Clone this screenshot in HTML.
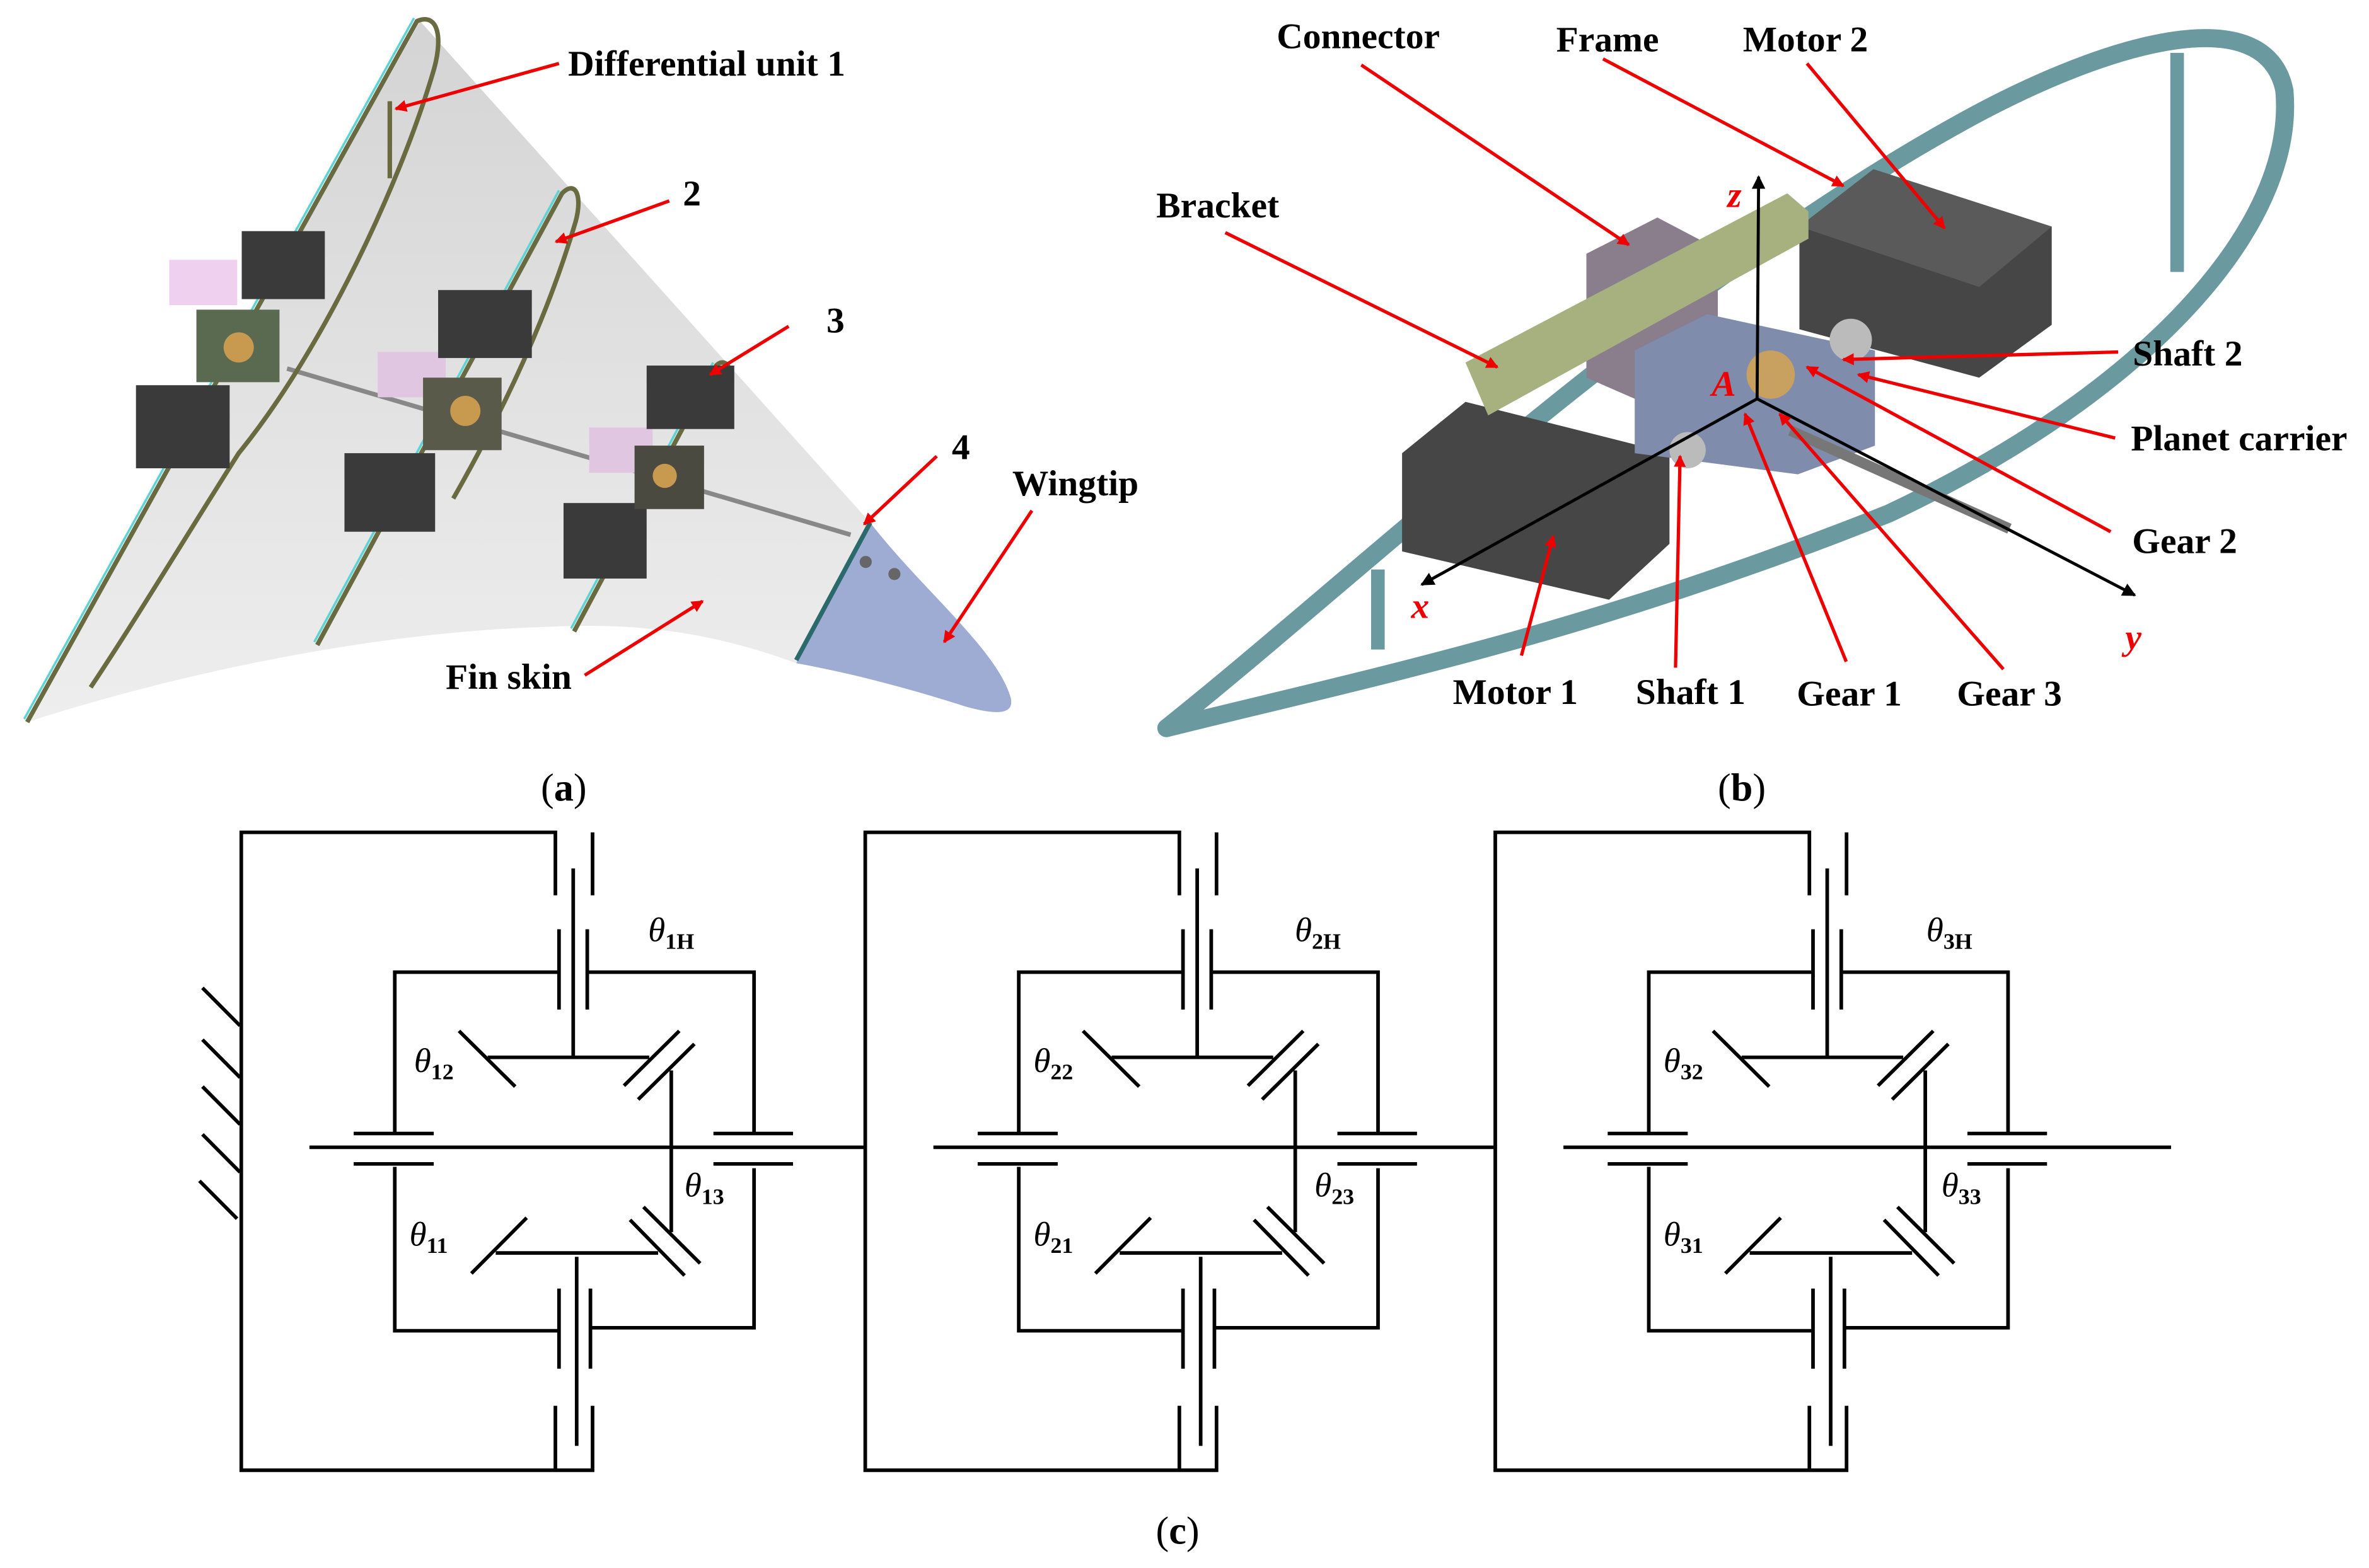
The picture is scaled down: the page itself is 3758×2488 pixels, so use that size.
<!DOCTYPE html>
<html><head><meta charset="utf-8"><style>
html,body{margin:0;padding:0;background:#fff}
svg{display:block}
.lb{font-family:"Liberation Serif",serif;font-weight:bold;font-size:24px;fill:#000}
.th{font-family:"Liberation Serif",serif;font-style:italic;font-size:23px;fill:#000}
.sb{font-family:"Liberation Serif",serif;font-style:normal;font-weight:bold;font-size:15px}
.cap{font-family:"Liberation Serif",serif;font-size:26px;fill:#000}
.ax{font-family:"Liberation Serif",serif;font-style:italic;font-weight:bold;font-size:24px;fill:#e00}
</style></head><body>
<svg width="3758" height="2488" viewBox="0 0 1568 1038" preserveAspectRatio="none" xmlns="http://www.w3.org/2000/svg">
<defs>
<marker id="ar" markerWidth="8" markerHeight="8" refX="7" refY="4" orient="auto" markerUnits="userSpaceOnUse"><path d="M0,0 L8,4 L0,8 z" fill="#e00"/></marker>
<marker id="ak" markerWidth="9" markerHeight="9" refX="8" refY="4.5" orient="auto" markerUnits="userSpaceOnUse"><path d="M0,0 L9,4.5 L0,9 z" fill="#000"/></marker>
<linearGradient id="sk" x1="0" y1="0" x2="0" y2="1"><stop offset="0" stop-color="#d4d4d4"/><stop offset="1" stop-color="#eeeeee"/></linearGradient>
<g id="unit" fill="none" stroke="#000" stroke-width="2.4">
<path d="M367.6,594 V551.6 H159.7 V981.4 H392.2 V938 M392.2,594 V551.6 M367.6,938 V981.4"/>
<path d="M379.4,575.9 V703.2 M370,616.9 V671 M388.7,616.9 V671"/>
<path d="M370,645.8 H261.3 V753.6 M388.7,645.8 H499.1 V753.6"/>
<path d="M234.1,754.5 H287.1 M234.1,775 H287.1 M472.2,754.5 H524.9 M472.2,775 H524.9"/>
<path d="M261.3,777 V887.4 H370 M390.8,885.4 H499.1 V777.9"/>
<path d="M370,859 V913 M390.8,859 V913 M381.7,837.6 V965"/>
<path d="M303.8,685.4 L341,722.9 M322.8,703.2 H429.7 M413,722.3 L449.6,685.4 M422.4,731.6 L459.6,694.2 M444.3,712 V821"/>
<path d="M312,848.8 L348.6,811.3 M328.1,835 H435.6 M417,812.7 L453.1,850.2 M425.9,804 L463.4,842"/>
</g>
</defs>

<!-- (a) -->
<path d="M278,14 L576,346 L527,439 C470,418 420,412 362,415 C250,418 120,445 18,478 Z" fill="url(#sk)"/>
<path d="M576,346 C610,390 660,430 669,462 C672,475 655,472 640,468 C600,455 560,445 527,439 Z" fill="#9eabd2"/>
<circle cx="573" cy="372" r="4" fill="#666"/><circle cx="592" cy="380" r="4" fill="#666"/>
<line x1="190" y1="244" x2="563" y2="354" stroke="#888" stroke-width="3"/>
<g fill="none" stroke-width="3" stroke="#6a6a40">
<path d="M18,478 L276,14 C290,8 294,25 286,50 C265,120 215,230 158,300 C120,360 90,410 60,455"/>
<path d="M258,67 V118" />
<path d="M210,427 L372,128 C382,118 386,132 380,150 C365,200 340,260 300,330"/>
<path d="M380,418 L474,242 C480,236 486,244 482,255"/>
<path d="M527,437 L576,346" stroke="#2a6a6a"/>
</g>
<g fill="none" stroke="#5cd4d4" stroke-width="1.5">
<path d="M16,476 L274,12"/><path d="M208,425 L370,126"/><path d="M378,416 L472,240"/>
</g>
<g>
<rect x="112" y="172" width="45" height="30" fill="#efd0ef"/>
<rect x="160" y="153" width="55" height="45" fill="#3a3a3a"/>
<rect x="90" y="255" width="62" height="55" fill="#3a3a3a"/>
<rect x="130" y="205" width="55" height="48" fill="#5a6a50"/>
<circle cx="158" cy="230" r="10" fill="#c89a50"/>
<rect x="250" y="233" width="45" height="30" fill="#e0c6e0"/>
<rect x="290" y="192" width="62" height="45" fill="#3a3a3a"/>
<rect x="228" y="300" width="60" height="52" fill="#3a3a3a"/>
<rect x="280" y="250" width="52" height="48" fill="#5a5a4a"/>
<circle cx="308" cy="272" r="10" fill="#c89a50"/>
<rect x="390" y="283" width="42" height="30" fill="#e0c6e0"/>
<rect x="428" y="242" width="58" height="42" fill="#3a3a3a"/>
<rect x="373" y="333" width="55" height="50" fill="#3a3a3a"/>
<rect x="420" y="295" width="46" height="42" fill="#4a4a40"/>
<circle cx="440" cy="315" r="8" fill="#c89a50"/>
</g>
<g stroke="#e00" stroke-width="2.2" marker-end="url(#ar)">
<line x1="370" y1="42" x2="262" y2="72"/>
<line x1="443" y1="133" x2="368" y2="160"/>
<line x1="522" y1="216" x2="470" y2="248"/>
<line x1="620" y1="302" x2="572" y2="347"/>
<line x1="683" y1="338" x2="625" y2="425"/>
<line x1="387" y1="447" x2="465" y2="398"/>
</g>
<text class="lb" x="376" y="50">Differential unit 1</text>
<text class="lb" x="452" y="136">2</text>
<text class="lb" x="547" y="220">3</text>
<text class="lb" x="630" y="304">4</text>
<text class="lb" x="670" y="328">Wingtip</text>
<text class="lb" x="295" y="456">Fin skin</text>
<text class="cap" x="358" y="530">(<tspan font-weight="bold">a</tspan>)</text>

<!-- (b) -->
<path d="M772,482 C900,380 1100,190 1300,80 C1400,25 1500,0 1512,60 C1520,150 1420,260 1250,340 C1050,420 900,450 772,482 Z" fill="none" stroke="#6a9aa0" stroke-width="12" stroke-linejoin="round"/>
<path d="M1441,35 V180 M912,377 V430" stroke="#6a9aa0" stroke-width="9"/>
<polygon points="1191,150 1240,112 1358,150 1358,215 1310,250 1191,218" fill="#464646"/>
<polygon points="1191,150 1240,112 1358,150 1310,190" fill="#5a5a5a"/>
<polygon points="928,300 970,266 1105,300 1105,360 1065,397 928,365" fill="#464646"/>
<polygon points="1050,168 1097,144 1137,165 1137,288 1050,250" fill="#8a7d8c"/>
<polygon points="970,240 1183,128 1197,140 1197,158 985,275" fill="#a7b07f"/>
<polygon points="1082,232 1130,208 1241,232 1241,295 1190,314 1082,300" fill="#7f8cab"/>
<circle cx="1172" cy="248" r="16" fill="#c8a060"/>
<circle cx="1225" cy="225" r="14" fill="#bbb"/>
<circle cx="1117" cy="298" r="12" fill="#bbb"/>
<line x1="1185" y1="285" x2="1330" y2="350" stroke="#777" stroke-width="7"/>
<g stroke="#000" stroke-width="2" marker-end="url(#ak)">
<line x1="1163" y1="264" x2="1164" y2="117"/>
<line x1="1163" y1="264" x2="941" y2="387"/>
<line x1="1163" y1="264" x2="1413" y2="394"/>
</g>
<g stroke="#e00" stroke-width="2.2" marker-end="url(#ar)">
<line x1="901" y1="43" x2="1078" y2="162"/>
<line x1="1061" y1="39" x2="1220" y2="123"/>
<line x1="1196" y1="42" x2="1287" y2="151"/>
<line x1="811" y1="154" x2="991" y2="243"/>
<line x1="1402" y1="233" x2="1220" y2="238"/>
<line x1="1400" y1="290" x2="1230" y2="248"/>
<line x1="1397" y1="352" x2="1196" y2="243"/>
<line x1="1007" y1="434" x2="1028" y2="355"/>
<line x1="1109" y1="442" x2="1112" y2="302"/>
<line x1="1222" y1="438" x2="1155" y2="274"/>
<line x1="1326" y1="443" x2="1178" y2="274"/>
</g>
<text class="lb" x="899" y="32" text-anchor="middle">Connector</text>
<text class="lb" x="1064" y="34" text-anchor="middle">Frame</text>
<text class="lb" x="1195" y="34" text-anchor="middle">Motor 2</text>
<text class="lb" x="806" y="144" text-anchor="middle">Bracket</text>
<text class="lb" x="1448" y="242" text-anchor="middle">Shaft 2</text>
<text class="lb" x="1482" y="298" text-anchor="middle">Planet carrier</text>
<text class="lb" x="1446" y="366" text-anchor="middle">Gear 2</text>
<text class="lb" x="1003" y="466" text-anchor="middle">Motor 1</text>
<text class="lb" x="1119" y="466" text-anchor="middle">Shaft 1</text>
<text class="lb" x="1224" y="467" text-anchor="middle">Gear 1</text>
<text class="lb" x="1330" y="467" text-anchor="middle">Gear 3</text>
<text class="ax" x="1148" y="137" text-anchor="middle">z</text>
<text class="ax" x="940" y="409" text-anchor="middle">x</text>
<text class="ax" x="1412" y="430" text-anchor="middle">y</text>
<text class="ax" x="1141" y="262" text-anchor="middle" font-size="20">A</text>
<text class="cap" x="1137" y="530">(<tspan font-weight="bold">b</tspan>)</text>

<!-- (c) -->
<g transform="matrix(1,0,0,0.9825,0,9.06)">
<use href="#unit"/>
<use href="#unit" transform="translate(413,0)"/>
<use href="#unit" transform="translate(830,0)"/>
<g stroke="#000" stroke-width="2.4" fill="none">
<path d="M204.8,763.8 H572.6 M617.8,763.8 H989 M1034.8,763.8 H1437"/>
<path d="M134,656.4 L158.9,681.9 M134,691.3 L158.9,716.8 M134,722.9 L158.9,748.4 M134,755.1 L158.9,780.6 M132,786.4 L156.9,811.9"/>
</g>
<g class="th">
<text x="429" y="625">θ<tspan class="sb" dy="5">1H</tspan></text>
<text x="274" y="713">θ<tspan class="sb" dy="5">12</tspan></text>
<text x="453" y="797">θ<tspan class="sb" dy="5">13</tspan></text>
<text x="271" y="830">θ<tspan class="sb" dy="5">11</tspan></text>
<text x="857" y="625">θ<tspan class="sb" dy="5">2H</tspan></text>
<text x="684" y="713">θ<tspan class="sb" dy="5">22</tspan></text>
<text x="870" y="797">θ<tspan class="sb" dy="5">23</tspan></text>
<text x="684" y="830">θ<tspan class="sb" dy="5">21</tspan></text>
<text x="1275" y="625">θ<tspan class="sb" dy="5">3H</tspan></text>
<text x="1101" y="713">θ<tspan class="sb" dy="5">32</tspan></text>
<text x="1285" y="797">θ<tspan class="sb" dy="5">33</tspan></text>
<text x="1101" y="830">θ<tspan class="sb" dy="5">31</tspan></text>
</g>
</g>
<text class="cap" x="765" y="1022">(<tspan font-weight="bold">c</tspan>)</text>
</svg>
</body></html>
